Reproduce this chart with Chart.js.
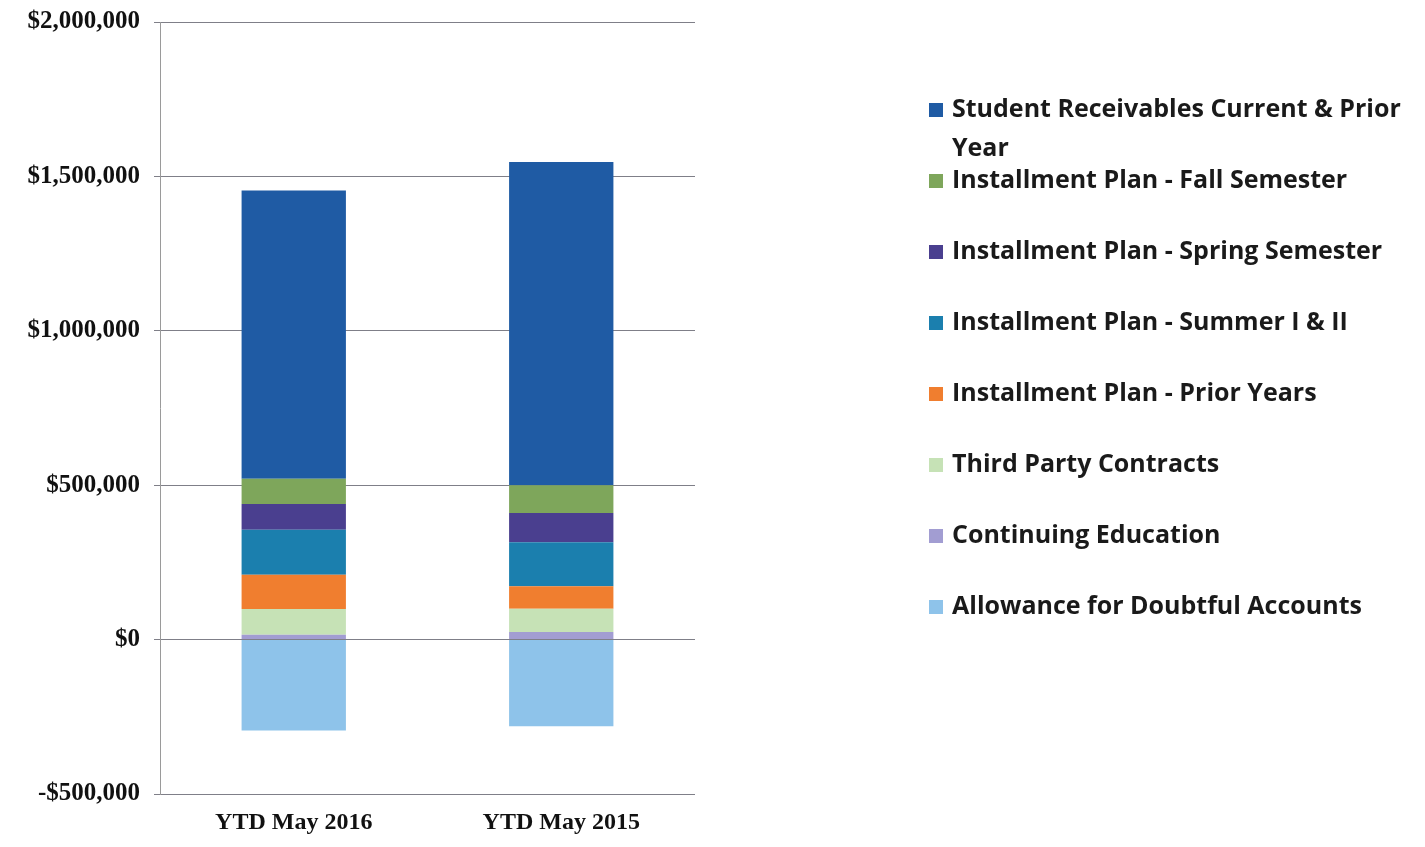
<!DOCTYPE html>
<html>
<head>
<meta charset="utf-8">
<title>Student Receivables</title>
<script src="https://cdn.jsdelivr.net/npm/chart.js@4.4.0/dist/chart.umd.min.js"></script>
<style>
  body { margin: 0; background: #fff; }
  #wrap { width: 1425px; height: 847px; }
</style>
</head>
<body>
<div id="wrap"><canvas id="barchart"></canvas></div>
<script>
const categories = ['YTD May 2016', 'YTD May 2015'];
const yTicks = [-500000, 0, 500000, 1000000, 1500000, 2000000];

// values per series: [YTD May 2016, YTD May 2015]
const studentReceivables = [933000, 1047000];
const fallSemester = [82000, 90000];
const springSemester = [83000, 95000];
const summerSemester = [146000, 142000];
const priorYears = [111000, 73000];
const thirdParty = [83000, 75000];
const continuingEd = [16000, 25000];
const allowance = [-294000, -281000];

// legend order (top to bottom), first one wraps onto two lines
const legendLines = [
  ['Student Receivables Current & Prior', 'Year'],
  ['Installment Plan - Fall Semester'],
  ['Installment Plan - Spring Semester'],
  ['Installment Plan - Summer I & II'],
  ['Installment Plan - Prior Years'],
  ['Third Party Contracts'],
  ['Continuing Education'],
  ['Allowance for Doubtful Accounts']
];

function money(v) {
  const s = '$' + Math.abs(v).toLocaleString('en-US');
  return v < 0 ? '-' + s : s;
}

// datasets go bottom-up in the stack
const data = {
  labels: categories,
  datasets: [
    { label: 'Continuing Education', data: continuingEd, backgroundColor: '#a29dd2' },
    { label: 'Third Party Contracts', data: thirdParty, backgroundColor: '#c6e2b6' },
    { label: 'Installment Plan - Prior Years', data: priorYears, backgroundColor: '#f07e2f' },
    { label: 'Installment Plan - Summer I & II', data: summerSemester, backgroundColor: '#1b7fae' },
    { label: 'Installment Plan - Spring Semester', data: springSemester, backgroundColor: '#4a3f8f' },
    { label: 'Installment Plan - Fall Semester', data: fallSemester, backgroundColor: '#7ea65b' },
    { label: 'Student Receivables Current & Prior Year', data: studentReceivables, backgroundColor: '#1f5ba4' },
    { label: 'Allowance for Doubtful Accounts', data: allowance, backgroundColor: '#8ec3ea' }
  ]
};

// legend drawn on the right side
const sideLegend = {
  id: 'sideLegend',
  afterDraw(chart) {
    const ctx = chart.ctx;
    ctx.save();
    ctx.font = 'bold 25px "Open Sans"';
    ctx.textBaseline = 'middle';
    let y = 110;
    legendLines.forEach(lines => {
      const full = lines.join(' ');
      const ds = chart.data.datasets.find(d => d.label === full);
      ctx.fillStyle = ds.backgroundColor;
      ctx.fillRect(929, y - 7, 14, 14);
      ctx.fillStyle = '#1a1a1a';
      lines.forEach((t, i) => ctx.fillText(t, 952, y + i * 39));
      y += 71;
    });
    ctx.restore();
  }
};

new Chart(document.getElementById('barchart'), {
  type: 'bar',
  data: data,
  plugins: [sideLegend],
  options: {
    responsive: true,
    maintainAspectRatio: false,
    animation: false,
    layout: { padding: { top: 22, right: 730, left: 0, bottom: 0 } },
    datasets: { bar: { categoryPercentage: 1, barPercentage: 0.39 } },
    plugins: {
      legend: { display: false },
      tooltip: { enabled: false }
    },
    scales: {
      x: {
        stacked: true,
        grid: { display: false, drawTicks: false },
        border: { display: false },
        ticks: {
          color: '#111',
          padding: 14,
          font: { family: 'Liberation Serif', size: 24, weight: 'bold' }
        },
        afterFit(scale) { scale.height = 53; }
      },
      y: {
        stacked: true,
        min: -500000,
        max: 2000000,
        afterBuildTicks(scale) { scale.ticks = yTicks.map(v => ({ value: v })); },
        grid: { color: '#7f7f88', lineWidth: 1, tickLength: 6 },
        border: { display: true, color: '#9a9a9a', width: 1 },
        ticks: {
          color: '#111',
          padding: 14,
          font: { family: 'Liberation Serif', size: 25, weight: 'bold' },
          callback: v => money(v)
        },
        afterFit(scale) {
          scale.width = 160;
          scale.paddingTop = 0;
          scale.paddingBottom = 0;
        }
      }
    }
  }
});
</script>
</body>
</html>
